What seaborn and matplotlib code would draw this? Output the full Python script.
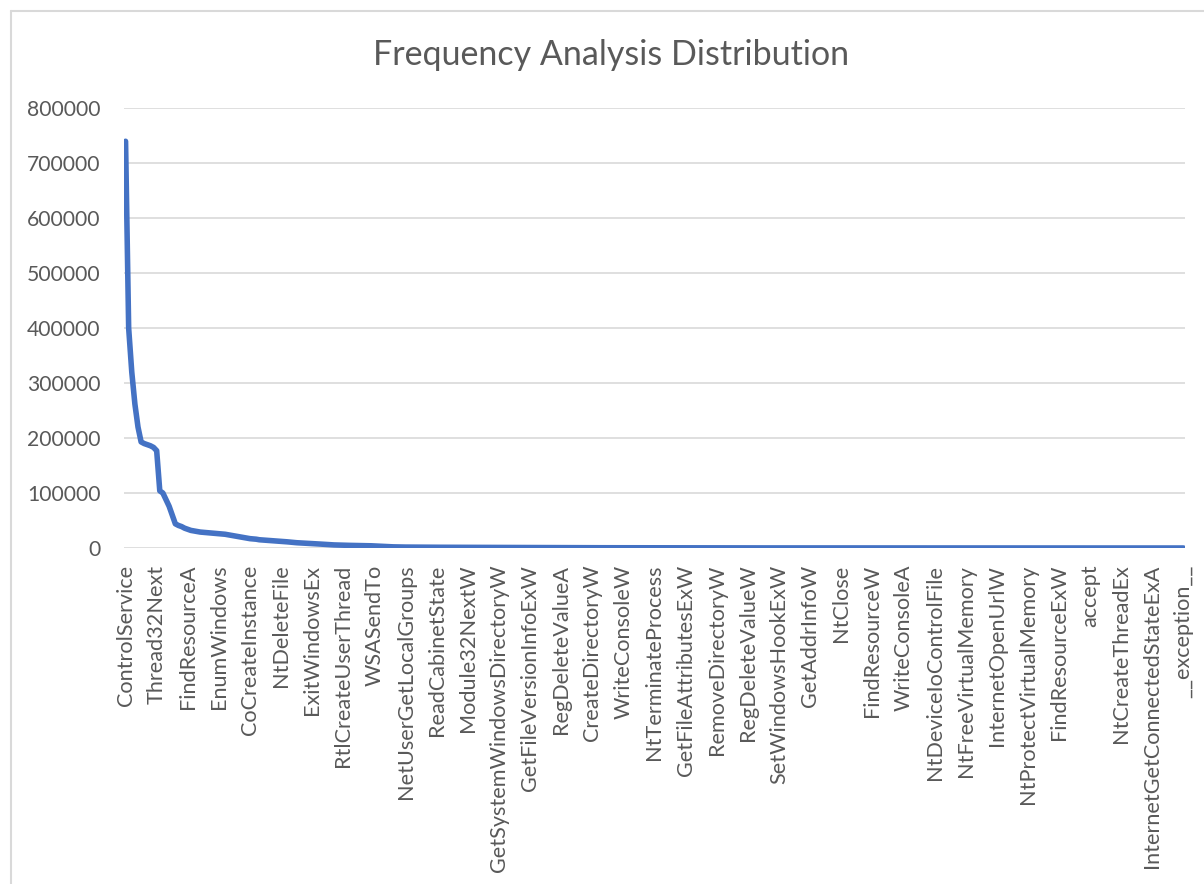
import numpy as np
import pandas as pd
import matplotlib
matplotlib.use("Agg")
import matplotlib.pyplot as plt
import seaborn as sns
from matplotlib.lines import Line2D

# Tick labels shown on the x axis (one every 10 categories)
tick_labels = [
    "ControlService", "Thread32Next", "FindResourceA", "EnumWindows",
    "CoCreateInstance", "NtDeleteFile", "ExitWindowsEx", "RtlCreateUserThread",
    "WSASendTo", "NetUserGetLocalGroups", "ReadCabinetState", "Module32NextW",
    "GetSystemWindowsDirectoryW", "GetFileVersionInfoExW", "RegDeleteValueA",
    "CreateDirectoryW", "WriteConsoleW", "NtTerminateProcess",
    "GetFileAttributesExW", "RemoveDirectoryW", "RegDeleteValueW",
    "SetWindowsHookExW", "GetAddrInfoW", "NtClose", "FindResourceW",
    "WriteConsoleA", "NtDeviceIoControlFile", "NtFreeVirtualMemory",
    "InternetOpenUrlW", "NtProtectVirtualMemory", "FindResourceExW", "accept",
    "NtCreateThreadEx", "InternetGetConnectedStateExA", "__exception__",
]
label_step = 10

# Frequency per API call, sorted descending
head_counts = [
    740000, 400000, 320000, 262000, 220000, 193000, 190000, 188000, 186000, 183000,
    177000, 104000, 100000, 88000, 76000, 60000, 44000, 41000, 39000, 36000,
    34000, 32000, 31000, 30000, 29000, 28500, 28000, 27500, 27000, 26500,
    26000, 25500, 25000, 24000, 23000, 22000, 21000, 20000, 19000, 18000,
    17000, 16500, 16000, 15000, 14600, 14300, 14000, 13600, 13200, 12800,
    12300, 11800, 11200, 10600, 10000, 9600, 9300, 9000, 8700, 8500,
]
mid_counts = [
    8200, 7800, 7400, 7000, 6600, 6200, 5900, 5600,
    5400, 5200, 5000, 4900, 4800, 4700, 4600, 4500, 4400, 4300,
    4200, 4000, 3700, 3400, 3100, 2800, 2500, 2300, 2100, 1950,
    1800, 1750, 1700, 1650, 1600, 1560, 1520, 1480, 1450, 1420, 1400, 1380,
    1360, 1340, 1320, 1300,
]
tail_counts = [
    1280, 1260, 1240, 1220, 1200, 1180, 1160, 1140, 1120, 1100,
    1080, 1060, 1040, 1020, 1000, 980, 960, 940, 920, 900,
    880, 860, 840, 820, 800, 785, 770, 755, 740, 725,
    710, 695, 680, 665, 650, 640, 630, 620, 610, 600,
    590, 580, 570, 560, 550, 540, 530, 520, 510, 500,
    490, 480, 470, 460, 450, 440, 430, 420, 410, 400,
    392, 384, 376, 368, 360, 352, 344, 336, 328, 320,
    314, 308, 302, 296, 290, 284, 278, 272, 266, 260,
    255, 250, 245, 240, 235, 230, 225, 220, 215, 210,
    206, 202, 198, 194, 190, 186, 182, 178, 174, 170,
    167, 164, 161, 158, 155, 152, 149, 146, 143, 140,
    138, 136, 134, 132, 130, 128, 126, 124, 122, 120,
    118, 116, 114, 112, 110, 108, 106, 104, 102, 100,
    98, 96, 94, 92, 90, 88, 86, 84, 82, 80,
    79, 78, 77, 76, 75, 74, 73, 72, 71, 70,
    69, 68, 67, 66, 65, 64, 63, 62, 61, 60,
    59, 58, 57, 56, 55, 54, 53, 52, 51, 50,
    49, 48, 47, 46, 45, 44, 43, 42, 41, 40,
    39, 38, 37, 36, 35, 34, 33, 32, 31, 30,
    29, 28, 27, 26, 25, 24, 23, 22, 21, 20,
    19, 18, 17, 16, 15, 14, 13, 12, 11, 10,
    9, 9, 8, 8, 7, 7, 6, 6, 5, 5,
    4, 4, 4, 3, 3, 3, 2, 2, 2, 2,
    1, 1, 1, 1, 1, 1, 1,
]
y_ticks = [0, 100000, 200000, 300000, 400000, 500000, 600000, 700000, 800000]

counts = head_counts + mid_counts + tail_counts
df = pd.DataFrame({"pos": np.arange(len(counts)), "count": counts})

sns.set_style("white")
plt.rcParams['font.family'] = ['Lato', 'DejaVu Sans']
text_color = "#595959"
grid_color = "#d9d9d9"

W, H = 1204, 884
fig = plt.figure(figsize=(W / 100, H / 100), dpi=100)
ax = fig.add_axes([124 / W, (H - 548) / H, (1185 - 124) / W, (548 - 108.3) / H])

sns.lineplot(data=df, x="pos", y="count", ax=ax, color="#4472C4", linewidth=4.0,
             solid_capstyle="round", solid_joinstyle="round", zorder=3)

ax.set_xlim(-0.5, len(counts) - 0.5)
ax.set_ylim(0, 800000)
ax.set_yticks(y_ticks)
ax.set_yticklabels([str(v) for v in y_ticks])
ax.set_xticks(np.arange(len(tick_labels)) * label_step)
ax.set_xticklabels(tick_labels, rotation=90, ha="center", va="top")
ax.tick_params(axis="x", length=0, pad=12, labelsize=15.6, labelcolor=text_color)
ax.tick_params(axis="y", length=0, pad=17, labelsize=15.2, labelcolor=text_color)
ax.yaxis.grid(True, color=grid_color, linewidth=1.2)
ax.set_axisbelow(True)
for s in ax.spines.values():
    s.set_visible(False)
ax.set_xlabel("")
ax.set_ylabel("")

fig.text(611 / W, 1 - 55 / H, "Frequency Analysis Distribution", ha="center", va="center",
         fontsize=24.5, color=text_color)

# chart area border
fig.add_artist(Line2D([11 / W, 11 / W], [0, 1 - 11 / H], color=grid_color, linewidth=1.5))
fig.add_artist(Line2D([11 / W, 1], [1 - 11 / H, 1 - 11 / H], color=grid_color, linewidth=1.5))

fig.savefig("out.png", dpi=100)
